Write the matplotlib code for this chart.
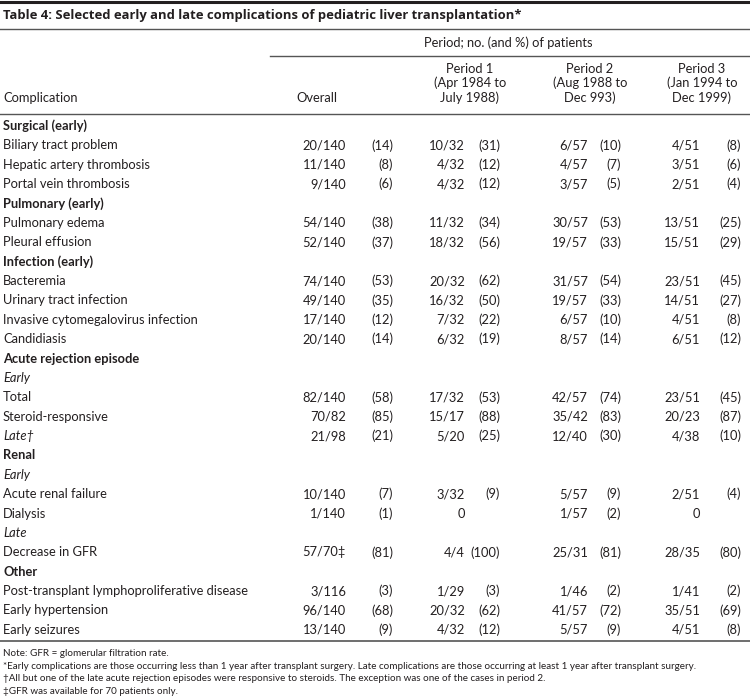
import matplotlib
matplotlib.use("Agg")
import matplotlib.pyplot as plt

plt.rcParams['font.family'] = ['Lato', 'DejaVu Sans']

INK = "#231f20"

# Table content
title = "Table 4: Selected early and late complications of pediatric liver transplantation*"
span_header = "Period; no. (and %) of patients"
col_headers = ["Overall",
               "Period 1\n(Apr 1984 to\nJuly 1988)",
               "Period 2\n(Aug 1988 to\nDec 993)",
               "Period 3\n(Jan 1994 to\nDec 1999)"]

row_labels = ["Surgical (early)", "Biliary tract problem", "Hepatic artery thrombosis",
              "Portal vein thrombosis", "Pulmonary (early)", "Pulmonary edema",
              "Pleural effusion", "Infection (early)", "Bacteremia",
              "Urinary tract infection", "Invasive cytomegalovirus infection",
              "Candidiasis", "Acute rejection episode", "Early", "Total",
              "Steroid-responsive", "Late†", "Renal", "Early", "Acute renal failure",
              "Dialysis", "Late", "Decrease in GFR", "Other",
              "Post-transplant lymphoproliferative disease", "Early hypertension",
              "Early seizures"]
row_style = ["b", "", "", "", "b", "", "", "b", "", "", "", "",
             "b", "i", "", "", "i", "b", "i", "", "", "i", "", "b", "", "", ""]

overall_n = ["", "20/140", "11/140", "9/140", "", "54/140", "52/140", "", "74/140",
             "49/140", "17/140", "20/140", "", "", "82/140", "70/82", "21/98", "", "",
             "10/140", "1/140", "", "57/70‡", "", "3/116", "96/140", "13/140"]
overall_pct = ["", "14", "8", "6", "", "38", "37", "", "53", "35", "12", "14", "", "",
               "58", "85", "21", "", "", "7", "1", "", "81", "", "3", "68", "9"]
p1_n = ["", "10/32", "4/32", "4/32", "", "11/32", "18/32", "", "20/32", "16/32", "7/32",
        "6/32", "", "", "17/32", "15/17", "5/20", "", "", "3/32", "0", "", "4/4", "",
        "1/29", "20/32", "4/32"]
p1_pct = ["", "31", "12", "12", "", "34", "56", "", "62", "50", "22", "19", "", "",
          "53", "88", "25", "", "", "9", "", "", "100", "", "3", "62", "12"]
p2_n = ["", "6/57", "4/57", "3/57", "", "30/57", "19/57", "", "31/57", "19/57", "6/57",
        "8/57", "", "", "42/57", "35/42", "12/40", "", "", "5/57", "1/57", "", "25/31", "",
        "1/46", "41/57", "5/57"]
p2_pct = ["", "10", "7", "5", "", "53", "33", "", "54", "33", "10", "14", "", "",
          "74", "83", "30", "", "", "9", "2", "", "81", "", "2", "72", "9"]
p3_n = ["", "4/51", "3/51", "2/51", "", "13/51", "15/51", "", "23/51", "14/51", "4/51",
        "6/51", "", "", "23/51", "20/23", "4/38", "", "", "2/51", "0", "", "28/35", "",
        "1/41", "35/51", "4/51"]
p3_pct = ["", "8", "6", "4", "", "25", "29", "", "45", "27", "8", "12", "", "",
          "45", "87", "10", "", "", "4", "", "", "80", "", "2", "69", "8"]

footnotes = [
    "Note: GFR = glomerular filtration rate.",
    "*Early complications are those occurring less than 1 year after transplant surgery. "
    "Late complications are those occurring at least 1 year after transplant surgery.",
    "†All but one of the late acute rejection episodes were responsive to steroids. "
    "The exception was one of the cases in period 2.",
    "‡GFR was available for 70 patients only.",
]

# Layout (pixels)
W, H = 750, 698
fig = plt.figure(figsize=(W / 100, H / 100), dpi=100)
ax = fig.add_axes([0, 0, 1, 1])
ax.set_xlim(0, W)
ax.set_ylim(H, 0)
ax.axis("off")

FS = 9.3
head_x = [317, 470, 590, 702]
n_right = [346, 465, 588, 700]
pct_right = [393, 500, 621, 741]

# rules
ax.plot([0, W], [2, 2], color=INK, lw=2.2)
ax.plot([0, W], [29, 29], color="#555555", lw=1.0)
ax.plot([270, W], [56, 56], color="#555555", lw=1.0)
ax.plot([0, W], [114, 114], color="#555555", lw=1.0)
ax.plot([0, W], [641, 641], color="#555555", lw=1.2)

ax.text(3, 15, title, fontsize=9.4, fontweight="bold", color=INK,
        va="center", ha="left", family=['Open Sans', 'DejaVu Sans'])
ax.text(508, 43, span_header, fontsize=FS, color=INK, va="center", ha="center")
ax.text(3, 98, "Complication", fontsize=FS, color=INK, va="center", ha="left")
for x, h in zip(head_x, col_headers):
    ax.text(x, 102, h, fontsize=FS, color=INK, va="baseline", ha="center",
            linespacing=1.2)

y0, dy = 126, 19.38
cols_n = [overall_n, p1_n, p2_n, p3_n]
cols_p = [overall_pct, p1_pct, p2_pct, p3_pct]
for i, lab in enumerate(row_labels):
    y = y0 + i * dy
    st = row_style[i]
    ax.text(3, y, lab, fontsize=FS, color=INK, va="center", ha="left",
            fontweight="bold" if st == "b" else "normal",
            fontstyle="italic" if st == "i" else "normal")
    for c in range(4):
        if cols_n[c][i]:
            ax.text(n_right[c], y, cols_n[c][i], fontsize=FS, color=INK,
                    va="center", ha="right")
        if cols_p[c][i]:
            ax.text(pct_right[c], y, "(" + cols_p[c][i] + ")", fontsize=FS,
                    color=INK, va="center", ha="right")

for k, note in enumerate(footnotes):
    ax.text(3, 654 + k * 12.4, note, fontsize=7.1, color=INK, va="center", ha="left")

fig.savefig("out.png", dpi=100)
